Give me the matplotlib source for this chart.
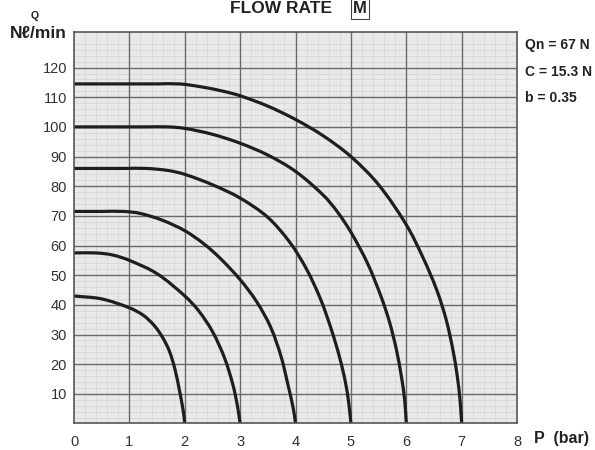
import numpy as np
import matplotlib.pyplot as plt
from matplotlib.path import Path
from matplotlib.patches import PathPatch

plt.rcParams['font.family'] = ['Liberation Sans', 'DejaVu Sans']

# supply pressure (bar) of each curve
supply = [2, 3, 4, 5, 6, 7]

# outlet pressure P (bar) / flow Q (Nl/min)
p_2 = [0, 0.5, 1.0, 1.25, 1.45, 1.6, 1.72, 1.82, 1.9, 1.97, 2.0]
q_2 = [43, 42, 39, 36.5, 33, 29, 24.5, 18.5, 11.5, 4.5, 0]

p_3 = [0, 0.4, 0.7, 1.0, 1.5, 2.0, 2.25, 2.5, 2.72, 2.87, 2.95, 3.0]
q_3 = [57.5, 57.5, 56.8, 55, 50.5, 43, 38, 31, 22, 13, 6, 0]

p_4 = [0, 0.5, 0.9, 1.2, 1.6, 2.0, 2.35, 2.65, 3.0, 3.3, 3.55, 3.74, 3.87, 3.96, 4.0]
q_4 = [71.5, 71.5, 71.5, 70.8, 68.5, 65, 60.5, 55.5, 48.5, 41, 32.5, 22.5, 12.5, 5, 0]

p_5 = [0, 0.9, 1.3, 1.7, 2.0, 2.5, 3.0, 3.5, 3.9, 4.2, 4.45, 4.65, 4.8, 4.9, 4.96, 5.0]
q_5 = [86, 86, 86, 85.3, 84, 80.5, 76, 69.5, 61, 52, 42, 31.5, 22, 14, 7, 0]

p_6 = [0, 1.3, 1.7, 2.0, 2.5, 3.0, 3.5, 4.0, 4.5, 4.75, 5.0, 5.3, 5.55, 5.7, 5.82, 5.91, 5.97, 6.0]
q_6 = [100, 100, 100, 99.5, 97.5, 94.5, 90.5, 85, 77, 71.5, 64.5, 54, 42.5, 34, 25, 16, 8, 0]

p_7 = [0, 1.5, 1.9, 2.3, 2.7, 3.0, 3.5, 4.0, 4.5, 5.0, 5.5, 6.0, 6.3, 6.55, 6.72, 6.84, 6.92, 6.97, 7.0]
q_7 = [114.5, 114.5, 114.5, 113.5, 112, 110.5, 107, 102.5, 97, 90, 80.5, 67, 56, 45, 35, 25, 16, 8, 0]

curves = [(p_2, q_2), (p_3, q_3), (p_4, q_4), (p_5, q_5), (p_6, q_6), (p_7, q_7)]

x_ticks = list(range(0, 9))
y_ticks = list(range(10, 130, 10))

# rough px per unit, only used to space the bezier handles
SX, SY = 55.4, 2.96


def smooth_path(p, q):
    # bezier pieces through the read points, chord-length catmull-rom
    pts = np.column_stack([p, q]).astype(float)
    n = len(pts)
    d = np.hypot(np.diff(pts[:, 0]) * SX, np.diff(pts[:, 1]) * SY)
    t = np.concatenate([[0], np.cumsum(d)])
    m = np.zeros_like(pts)
    m[0] = (pts[1] - pts[0]) / (t[1] - t[0])
    m[-1] = (pts[-1] - pts[-2]) / (t[-1] - t[-2])
    for i in range(1, n - 1):
        m[i] = (pts[i + 1] - pts[i - 1]) / (t[i + 1] - t[i - 1])
    verts = [pts[0]]
    codes = [Path.MOVETO]
    for i in range(n - 1):
        h = t[i + 1] - t[i]
        verts += [pts[i] + m[i] * h / 3, pts[i + 1] - m[i + 1] * h / 3, pts[i + 1]]
        codes += [Path.CURVE4] * 3
    return Path(verts, codes)


fig = plt.figure(figsize=(5.95, 4.5), dpi=100)
ax = fig.add_axes([0.1244, 0.0589, 0.7446, 0.8700])
ax.set_facecolor('#e9e9e9')

ax.set_xlim(0, 8)
ax.set_ylim(0, 132)

# fine "graph paper" grid, heavier lines every 1 bar / 10 Nl/min
minor_x = [v for v in np.arange(0, 8.01, 0.2) if abs(v - round(v)) > 1e-6]
minor_y = [v for v in np.arange(0, 132, 2) if v % 10 != 0]
ax.set_xticks(minor_x, minor=True)
ax.set_yticks(minor_y, minor=True)
ax.grid(which='minor', color='#d4d4d4', lw=0.5)
ax.set_axisbelow(True)
ax.set_xticks(x_ticks)
ax.set_yticks(y_ticks)
for x in x_ticks[1:-1]:
    ax.axvline(x, color='#6a6a6a', lw=1.0, zorder=0.9)
for y in y_ticks:
    ax.axhline(y, color='#6a6a6a', lw=1.0, zorder=0.9)

ax.tick_params(which='both', length=0)
ax.tick_params(axis='y', pad=5, labelsize=10.5, labelcolor='#333333')
ax.tick_params(axis='x', pad=8, labelsize=10.5, labelcolor='#333333')
for s in ax.spines.values():
    s.set_color('#555555')
    s.set_linewidth(1.2)

for p, q in curves:
    ax.add_patch(PathPatch(smooth_path(p, q), fill=False, ec='#1e1e1e', lw=2.3,
                           capstyle='butt', joinstyle='round', zorder=2))

# titles / labels
fig.text(0.473, 1 - 13 / 450, 'FLOW RATE', ha='center', va='baseline',
         fontsize=12.5, fontweight='bold', color='#222222')
fig.text(0.605, 1 - 13 / 450, 'M', ha='center', va='baseline', fontsize=12,
         fontweight='bold', color='#222222',
         bbox=dict(boxstyle='square,pad=0.15', fc='white', ec='#444444', lw=0.8))
fig.text(35 / 595, 1 - 16 / 450, 'Q', ha='center', va='center', fontsize=7.5,
         fontweight='bold', color='#222222')
fig.text(38 / 595, 1 - 33 / 450, 'N\u2113/min', ha='center', va='center',
         fontsize=12.5, fontweight='bold', color='#222222')
fig.text(534 / 595, 1 - 438 / 450, 'P  (bar)', ha='left', va='center',
         fontsize=11.5, fontweight='bold', color='#222222')

fig.text(525 / 595, 1 - 45 / 450, 'Qn = 67 N', ha='left', va='center',
         fontsize=10, fontweight='bold', color='#222222')
fig.text(525 / 595, 1 - 72 / 450, 'C = 15.3 N', ha='left', va='center',
         fontsize=10, fontweight='bold', color='#222222')
fig.text(525 / 595, 1 - 98 / 450, 'b = 0.35', ha='left', va='center',
         fontsize=10, fontweight='bold', color='#222222')

fig.savefig('out.png', dpi=100, facecolor='white')
